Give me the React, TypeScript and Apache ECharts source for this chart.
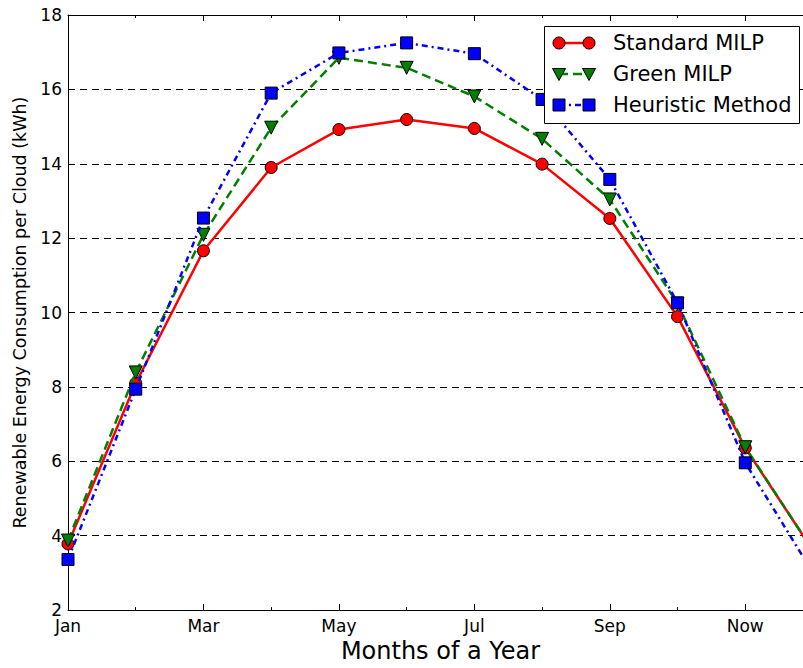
import React, { useEffect, useRef } from "react";
import * as echarts from "echarts";

const months = ["Jan", "Feb", "Mar", "Apr", "May", "Jun", "Jul", "Aug", "Sep", "Oct", "Now", "Dec"];
const standardMilp = [3.78, 8.1, 11.66, 13.9, 14.92, 15.19, 14.95, 13.99, 12.53, 9.89, 6.36, 3.6];
const greenMilp = [3.87, 8.39, 12.09, 14.97, 16.85, 16.58, 15.81, 14.67, 13.04, 10.24, 6.38, 3.6];
const heuristic = [3.36, 7.94, 12.54, 15.9, 16.98, 17.25, 16.96, 15.73, 13.58, 10.26, 5.96, 3.0];
const seriesNames = ["Standard MILP", "Green MILP", "Heuristic Method"];
const yMin = 2;
const yMax = 18;
const yStep = 2;

const FONT = "DejaVu Sans";

export default function App() {
  const ref = useRef<HTMLDivElement>(null);
  useEffect(() => {
    document.body.style.margin = "0";
    const chart = echarts.init(ref.current!, null, { renderer: "svg" });
    const toPairs = (arr: number[]) => arr.map((v, i) => [i, v]);
    const legendRows = [43, 74, 105];
    const lx1 = 559;
    const lx2 = 589;
    const legendGraphics: any[] = [
      {
        type: "rect",
        shape: { x: 544.5, y: 26.5, width: 255, height: 97 },
        style: { fill: "#fff", stroke: "#000", lineWidth: 1 },
        z: 100,
      },
      // Standard MILP
      { type: "line", shape: { x1: lx1, y1: legendRows[0], x2: lx2, y2: legendRows[0] }, style: { stroke: "#ff0000", lineWidth: 2.5 }, z: 101 },
      { type: "circle", shape: { cx: lx1, cy: legendRows[0], r: 6 }, style: { fill: "#ff0000", stroke: "#000", lineWidth: 1 }, z: 102 },
      { type: "circle", shape: { cx: lx2, cy: legendRows[0], r: 6 }, style: { fill: "#ff0000", stroke: "#000", lineWidth: 1 }, z: 102 },
      // Green MILP
      { type: "line", shape: { x1: lx1, y1: legendRows[1], x2: lx2, y2: legendRows[1] }, style: { stroke: "#008000", lineWidth: 2.5, lineDash: [9, 5] }, z: 101 },
      { type: "polygon", shape: { points: [[lx1 - 6.5, legendRows[1] - 5.5], [lx1 + 6.5, legendRows[1] - 5.5], [lx1, legendRows[1] + 6.5]] }, style: { fill: "#008000", stroke: "#000", lineWidth: 1 }, z: 102 },
      { type: "polygon", shape: { points: [[lx2 - 6.5, legendRows[1] - 5.5], [lx2 + 6.5, legendRows[1] - 5.5], [lx2, legendRows[1] + 6.5]] }, style: { fill: "#008000", stroke: "#000", lineWidth: 1 }, z: 102 },
      // Heuristic
      { type: "line", shape: { x1: lx1, y1: legendRows[2], x2: lx2, y2: legendRows[2] }, style: { stroke: "#0000ff", lineWidth: 2.5, lineDash: [6, 4, 2, 4] }, z: 101 },
      { type: "rect", shape: { x: lx1 - 6, y: legendRows[2] - 6, width: 12, height: 12 }, style: { fill: "#0000ff", stroke: "#000", lineWidth: 1 }, z: 102 },
      { type: "rect", shape: { x: lx2 - 6, y: legendRows[2] - 6, width: 12, height: 12 }, style: { fill: "#0000ff", stroke: "#000", lineWidth: 1 }, z: 102 },
    ];
    seriesNames.forEach((n, i) => {
      legendGraphics.push({
        type: "text",
        x: 613,
        y: legendRows[i],
        style: { text: n, fill: "#000", font: `21px "${FONT}"`, verticalAlign: "middle", align: "left" },
        z: 102,
      });
    });

    const xAxisBase = {
      type: "value",
      min: 0,
      max: months.length - 1,
      interval: 2,
      splitLine: { show: false },
      axisLine: { show: true, lineStyle: { color: "#000", width: 1 } },
      axisTick: { show: true, inside: true, length: 6, lineStyle: { color: "#000" } },
      minorTick: { show: true, splitNumber: 2, length: 3, lineStyle: { color: "#000" } },
      minorSplitLine: { show: false },
    };

    chart.setOption({
      animation: false,
      backgroundColor: "#fff",
      grid: { left: 68, right: 17, top: 15, bottom: 55, show: false },
      xAxis: [
        {
          ...xAxisBase,
          position: "bottom",
          name: "Months of a Year",
          nameLocation: "middle",
          nameGap: 28,
          nameTextStyle: { fontFamily: FONT, fontSize: 24, color: "#000" },
          axisLabel: {
            fontFamily: FONT,
            fontSize: 17,
            lineHeight: 15,
            color: "#000",
            margin: 8,
            formatter: (v: number) => (v % 2 === 0 && months[v] ? months[v] : ""),
          },
        },
        {
          ...xAxisBase,
          position: "top",
          axisLabel: { show: false },
        },
      ],
      yAxis: {
        type: "value",
        min: yMin,
        max: yMax,
        interval: yStep,
        name: "Renewable Energy Consumption per Cloud (kWh)",
        nameLocation: "middle",
        nameGap: 38,
        nameTextStyle: { fontFamily: FONT, fontSize: 17.5, color: "#000" },
        axisLine: { show: true, lineStyle: { color: "#000", width: 1 } },
        axisTick: { show: true, inside: true, length: 6, lineStyle: { color: "#000" } },
        axisLabel: { fontFamily: FONT, fontSize: 17, lineHeight: 13, color: "#000", margin: 6 },
        splitLine: { show: true, lineStyle: { color: "#000", width: 1, type: [7, 5] } },
      },
      series: [
        {
          name: seriesNames[0],
          type: "line",
          data: toPairs(standardMilp),
          symbol: "circle",
          symbolSize: 12,
          lineStyle: { color: "#ff0000", width: 2.5, type: "solid" },
          itemStyle: { color: "#ff0000", borderColor: "#000", borderWidth: 1 },
          z: 3,
        },
        {
          name: seriesNames[1],
          type: "line",
          data: toPairs(greenMilp),
          symbol: "triangle",
          symbolRotate: 180,
          symbolSize: 13,
          lineStyle: { color: "#008000", width: 2.5, type: [9, 5] },
          itemStyle: { color: "#008000", borderColor: "#000", borderWidth: 1 },
          z: 4,
        },
        {
          name: seriesNames[2],
          type: "line",
          data: toPairs(heuristic),
          symbol: "rect",
          symbolSize: 12,
          lineStyle: { color: "#0000ff", width: 2.5, type: [6, 4, 2, 4] },
          itemStyle: { color: "#0000ff", borderColor: "#000", borderWidth: 1 },
          z: 5,
        },
      ],
      graphic: [
        {
          type: "line",
          shape: { x1: 68, y1: 15.5, x2: 830, y2: 15.5 },
          style: { stroke: "#000", lineWidth: 1 },
          z: 50,
        },
        ...legendGraphics,
      ],
    });
    return () => chart.dispose();
  }, []);

  return (
    <div style={{ position: "fixed", left: 0, top: 0, width: 803, height: 668, overflow: "hidden", background: "#fff" }}>
      <div ref={ref} style={{ width: 830, height: 668 }} />
    </div>
  );
}
